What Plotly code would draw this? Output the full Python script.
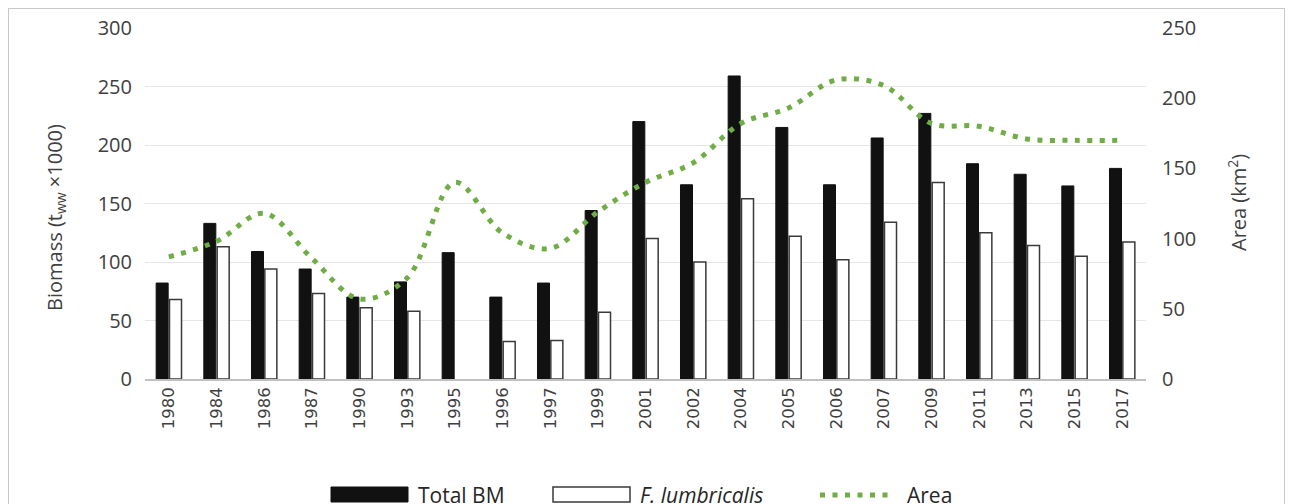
import plotly.graph_objects as go

# Data
years = ["1980", "1984", "1986", "1987", "1990", "1993", "1995", "1996", "1997", "1999",
         "2001", "2002", "2004", "2005", "2006", "2007", "2009", "2011", "2013", "2015", "2017"]
total_bm = [82, 133, 109, 94, 70, 83, 108, 70, 82, 144,
            220, 166, 259, 215, 166, 206, 227, 184, 175, 165, 180]
# no F. lumbricalis bar is drawn for 1995
f_lumbricalis = [68, 113, 94, 73, 61, 58, None, 32, 33, 57,
                 120, 100, 154, 122, 102, 134, 168, 125, 114, 105, 117]
area = [87, 98, 118, 86, 57, 72, 140, 104, 93, 119,
        140, 154, 182, 193, 213, 209, 182, 180, 171, 170, 170]

# the page body has an 8px margin, so figure pixels = page pixels - 8
OFF = 8
W_FIG, H_FIG = 1293, 504
# plot area in page pixels: x 145..1146, y 28..379
L = 145 - OFF
T = 28 - OFF
R = W_FIG - (1146 - OFF)
B = H_FIG - (379 - OFF)
PW = W_FIG - L - R
PH = H_FIG - T - B


def px(x):
    # page x pixel -> paper coordinate
    return (x - OFF - L) / PW


def py(y):
    # page y pixel -> paper coordinate
    return (H_FIG - B - (y - OFF)) / PH


fig = go.Figure()

fig.add_trace(go.Bar(
    x=years, y=total_bm, name="Total BM",
    marker=dict(color="#111111", line=dict(color="#111111", width=1)),
))
fig.add_trace(go.Bar(
    x=years, y=f_lumbricalis, name="F. lumbricalis",
    marker=dict(color="white", line=dict(color="#3a3a3a", width=1.5)),
))
fig.add_trace(go.Scatter(
    x=years, y=area, name="Area", yaxis="y2", mode="lines",
    line=dict(color="#70AD47", width=5, dash="5px,7.5px", shape="spline", smoothing=1),
))

tick_font = dict(family="Open Sans", size=20, color="#404040")

fig.update_layout(
    width=W_FIG, height=H_FIG,
    margin=dict(l=L, r=R, t=T, b=B, autoexpand=False),
    paper_bgcolor="white", plot_bgcolor="white",
    showlegend=False,
    barmode="group", bargap=0.44, bargroupgap=0.1,
    xaxis=dict(
        type="category", tickangle=-90,
        tickfont=dict(family="DejaVu Sans", size=16.5, color="#404040"),
        showline=True, linecolor="#c0c0c0", linewidth=1.5,
        showgrid=False, ticks="",
    ),
    yaxis=dict(
        range=[0, 300], dtick=50, tickfont=tick_font,
        showgrid=True, gridcolor="#e6e6e6", gridwidth=1,
        zeroline=False, ticklabelstandoff=12,
    ),
    yaxis2=dict(
        range=[0, 250], dtick=50, tickfont=tick_font,
        overlaying="y", side="right", showgrid=False, zeroline=False,
        ticklabelstandoff=15,
    ),
)

ann_font = dict(family="Open Sans", size=20, color="#404040")
legend_font = dict(family="Open Sans", size=21, color="#262626")

annotations = [
    dict(x=px(56), y=py(218), text="Biomass (t<sub>ww</sub> ×1000)", textangle=-90,
         font=ann_font),
    dict(x=px(1237), y=py(203), text="Area (km<sup>2</sup>)", textangle=-90,
         font=ann_font),
    dict(x=px(416), y=py(495), text="Total BM", xanchor="left", font=legend_font),
    dict(x=px(638), y=py(495), text="<i>F. lumbricalis</i>", xanchor="left", font=legend_font),
    dict(x=px(905), y=py(495), text="Area", xanchor="left", font=legend_font),
]
for a in annotations:
    a.update(xref="paper", yref="paper", showarrow=False)
    a.setdefault("xanchor", "center")
    a.setdefault("yanchor", "middle")
fig.update_layout(annotations=annotations)

shapes = [
    # outer frame
    dict(type="rect", x0=px(8), x1=px(1285), y0=py(8), y1=py(530),
         line=dict(color="#c8c8c8", width=2)),
    # legend symbols
    dict(type="rect", x0=px(331), x1=px(408), y0=py(487), y1=py(502),
         fillcolor="#111111", line=dict(color="#111111", width=1)),
    dict(type="rect", x0=px(553), x1=px(630), y0=py(487), y1=py(502),
         fillcolor="white", line=dict(color="#3a3a3a", width=1.5)),
    dict(type="line", x0=px(820), x1=px(892), y0=py(495), y1=py(495),
         line=dict(color="#70AD47", width=5, dash="5px,7.5px")),
]
for s in shapes:
    s.update(xref="paper", yref="paper", layer="above")
fig.update_layout(shapes=shapes)

fig.write_html("out.html")
